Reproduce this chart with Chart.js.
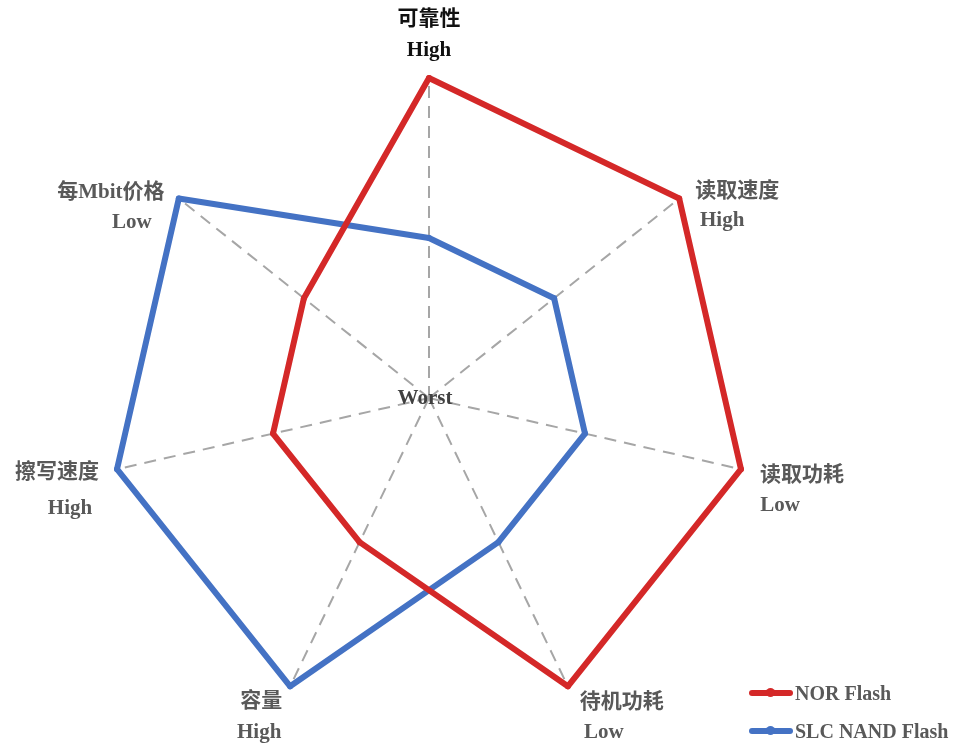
<!DOCTYPE html>
<html>
<head>
<meta charset="utf-8">
<script src="https://cdn.jsdelivr.net/npm/chart.js@4"></script>
<style>
  html, body { margin: 0; padding: 0; background: #fff; }
  #caja { position: relative; width: 972px; height: 745px; }
  #leyenda { position: absolute; left: 749px; top: 674px; font: bold 20px "Liberation Serif", "Noto Sans CJK SC", serif; color: #595959; }
  .fila { display: flex; align-items: center; height: 38px; }
  .linea { width: 44px; height: 6px; border-radius: 3px; margin-right: 2px; position: relative; }
  .linea::after { content: ""; position: absolute; left: 17px; top: -2px; width: 9px; height: 9px; border-radius: 50%; background: inherit; }
</style>
</head>
<body>
<div id="caja">
  <canvas id="grafico1" width="972" height="745"></canvas>
  <div id="leyenda"></div>
</div>
<script>
const categorias = ['可靠性', '读取速度', '读取功耗', '待机功耗', '容量', '擦写速度', '每Mbit价格'];
const niveles = ['High', 'High', 'Low', 'Low', 'High', 'High', 'Low'];
const series = ['NOR Flash', 'SLC NAND Flash'];
const valoresNor = [1, 1, 1, 1, 0.5, 0.5, 0.5];
const valoresNand = [0.5, 0.5, 0.5, 0.5, 1, 1, 1];
const colores = ['#D42828', '#4472C4'];

// desplazamientos de las etiquetas respecto al vértice exterior
const offsetNombre = [[0, -58], [58, -7], [61, 6], [54, 16], [-29, 15], [-60, 3], [-68, -6]];
const offsetNivel = [[0, -27], [43, 22], [39, 36], [36, 46], [-31, 46], [-47, 39], [-47, 24]];

const fuente = 'bold 21px "Liberation Serif", "Noto Sans CJK SC", serif';

const etiquetasPlugin = {
  id: 'etiquetas',
  afterDraw(chart) {
    const scale = chart.scales.r;
    const ctx = chart.ctx;
    ctx.save();
    ctx.font = fuente;
    ctx.textAlign = 'center';
    ctx.textBaseline = 'middle';
    categorias.forEach((nombre, i) => {
      const p = scale.getPointPosition(i, scale.drawingArea);
      ctx.fillStyle = i === 0 ? '#111111' : '#595959';
      ctx.fillText(nombre, p.x + offsetNombre[i][0], p.y + offsetNombre[i][1]);
      ctx.fillText(niveles[i], p.x + offsetNivel[i][0], p.y + offsetNivel[i][1]);
    });
    ctx.fillStyle = '#404040';
    ctx.fillText('Worst', scale.xCenter - 4, scale.yCenter + 1);
    ctx.restore();
  }
};

document.addEventListener("DOMContentLoaded", () => {
  const lienzo = document.querySelector("#grafico1");
  new Chart(lienzo, {
    type: 'radar',
    data: {
      labels: categorias,
      datasets: [
        { label: series[0], data: valoresNor, borderColor: colores[0], backgroundColor: colores[0] },
        { label: series[1], data: valoresNand, borderColor: colores[1], backgroundColor: colores[1] }
      ]
    },
    options: {
      responsive: false,
      animation: false,
      layout: { padding: { left: 109, right: 223, top: 78, bottom: 27 } },
      elements: {
        line: { borderWidth: 6, fill: false, tension: 0, borderJoinStyle: 'round' },
        point: { radius: 3, borderWidth: 0 }
      },
      plugins: { legend: { display: false }, tooltip: { enabled: false } },
      scales: {
        r: {
          min: 0,
          max: 1,
          ticks: { display: false, stepSize: 0.5 },
          grid: { display: false },
          pointLabels: { display: false },
          angleLines: { display: true, color: '#A6A6A6', lineWidth: 2, borderDash: [12, 8] }
        }
      }
    },
    plugins: [etiquetasPlugin]
  });

  const leyenda = document.querySelector("#leyenda");
  series.forEach((nombre, i) => {
    const fila = document.createElement('div');
    fila.className = 'fila';
    const linea = document.createElement('span');
    linea.className = 'linea';
    linea.style.background = colores[i];
    const texto = document.createElement('span');
    texto.textContent = nombre;
    fila.appendChild(linea);
    fila.appendChild(texto);
    leyenda.appendChild(fila);
  });
});
</script>
</body>
</html>
